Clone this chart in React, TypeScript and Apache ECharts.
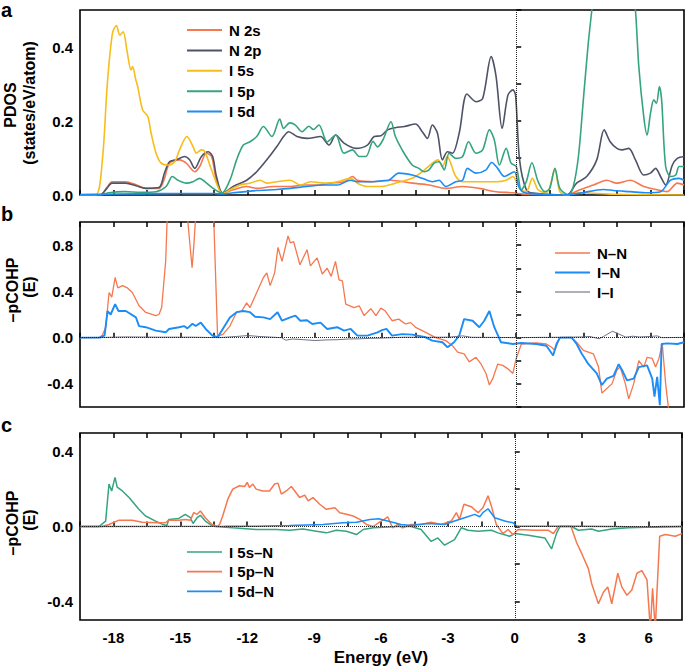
import React, { useEffect, useRef } from "react";
import * as echarts from "echarts";

const FONT = 'Arial, "Liberation Sans", Helvetica, sans-serif';

// ---------- Panel a: PDOS (states/eV/atom) vs energy (eV) ----------
const n2s: [number, number][] = [[-19.5,0],[-18.6,0],[-18.3,0.02],[-18.07,0.036],[-17.8,0.036],[-17.45,0.036],[-17.0,0.028],[-16.55,0.018],[-15.97,0.018],[-15.75,0.04],[-15.5,0.086],[-15.05,0.095],[-14.75,0.086],[-14.37,0.063],[-14.15,0.077],[-13.85,0.113],[-13.62,0.104],[-13.4,0.04],[-13.12,0.005],[-12.65,0.014],[-12.05,0.023],[-11.6,0.018],[-10.85,0.023],[-10.1,0.023],[-9.5,0.027],[-8.9,0.027],[-8.3,0.032],[-7.7,0.036],[-7.32,0.05],[-7.1,0.04],[-6.35,0.036],[-5.6,0.04],[-4.65,0.032],[-3.9,0.027],[-3.15,0.018],[-2.4,0.023],[-1.65,0.018],[-0.9,0.009],[-0.15,0.006],[0.45,0.002],[2.25,0],[2.85,0.014],[3.45,0.027],[4.05,0.04],[4.5,0.032],[5.1,0.04],[5.7,0.023],[6.3,0.014],[6.75,0.009],[7.2,0.032],[7.5,0.027]];
const n2p: [number, number][] = [[-19.5,0],[-18.6,0],[-18.3,0.018],[-18.07,0.032],[-17.45,0.032],[-17.0,0.025],[-16.55,0.018],[-15.97,0.02],[-15.72,0.06],[-15.5,0.09],[-15.2,0.095],[-14.82,0.104],[-14.6,0.095],[-14.37,0.072],[-14.07,0.104],[-13.77,0.117],[-13.57,0.104],[-13.4,0.05],[-13.12,0.005],[-12.65,0.023],[-12.05,0.04],[-11.6,0.063],[-11.15,0.095],[-10.7,0.131],[-10.4,0.158],[-10.17,0.171],[-9.8,0.158],[-9.35,0.153],[-8.75,0.158],[-8.37,0.135],[-8.07,0.162],[-7.7,0.14],[-7.17,0.126],[-6.65,0.135],[-6.35,0.158],[-6.05,0.16],[-5.75,0.176],[-5.4,0.182],[-5.0,0.185],[-4.5,0.192],[-4.2,0.171],[-3.97,0.153],[-3.75,0.189],[-3.52,0.167],[-3.3,0.095],[-3.07,0.117],[-2.85,0.113],[-2.55,0.167],[-2.2,0.273],[-1.8,0.252],[-1.5,0.261],[-1.12,0.374],[-0.9,0.32],[-0.63,0.18],[-0.37,0.27],[-0.15,0.284],[-0.03,0.27],[0.15,0.095],[0.45,0.014],[0.75,0.005],[2.25,0],[2.7,0.032],[3.15,0.05],[3.6,0.095],[3.93,0.176],[4.2,0.144],[4.5,0.126],[4.73,0.122],[5.03,0.126],[5.33,0.095],[5.7,0.054],[6.0,0.059],[6.23,0.072],[6.45,0.05],[6.68,0.027],[6.98,0.081],[7.2,0.099],[7.5,0.104]];
const i5s: [number, number][] = [[-19.5,0],[-18.8,0],[-18.5,0.095],[-18.28,0.3],[-18.05,0.437],[-17.87,0.458],[-17.72,0.432],[-17.57,0.441],[-17.4,0.39],[-17.22,0.338],[-17.15,0.347],[-17.0,0.31],[-16.92,0.293],[-16.7,0.23],[-16.47,0.212],[-16.32,0.167],[-16.1,0.113],[-15.87,0.086],[-15.57,0.081],[-15.27,0.09],[-15.05,0.122],[-14.72,0.158],[-14.45,0.131],[-14.3,0.113],[-14.07,0.122],[-13.92,0.117],[-13.62,0.068],[-13.24,0.009],[-13.1,0.005],[-12.8,0.014],[-12.35,0.027],[-11.9,0.032],[-11.45,0.04],[-11.15,0.032],[-10.7,0.036],[-10.1,0.04],[-9.65,0.027],[-9.2,0.036],[-8.6,0.032],[-8.0,0.036],[-7.4,0.045],[-7.1,0.032],[-6.65,0.023],[-6.05,0.023],[-5.4,0.032],[-4.65,0.045],[-4.2,0.063],[-3.75,0.086],[-3.5,0.095],[-3.3,0.077],[-3.08,0.104],[-2.93,0.086],[-2.7,0.05],[-2.4,0.036],[-1.65,0.036],[-0.9,0.036],[-0.45,0.04],[-0.15,0.05],[0.15,0.018],[0.45,0.009],[0.72,0.045],[0.98,0.014],[1.35,0.005],[1.73,0.068],[1.95,0.009],[2.25,0],[2.85,0.006],[4.35,0.002],[7.5,0]];
const i5p: [number, number][] = [[-19.5,0],[-18.6,0],[-18.2,0.006],[-17.5,0.009],[-16.8,0.007],[-16.1,0.009],[-15.65,0.023],[-15.37,0.05],[-15.12,0.04],[-14.75,0.032],[-14.45,0.036],[-14.15,0.045],[-13.92,0.036],[-13.55,0.018],[-13.17,0.005],[-12.8,0.04],[-12.5,0.095],[-12.2,0.135],[-11.9,0.144],[-11.6,0.158],[-11.3,0.185],[-10.92,0.158],[-10.57,0.205],[-10.4,0.18],[-10.12,0.195],[-9.87,0.189],[-9.57,0.171],[-9.27,0.186],[-9.07,0.177],[-8.82,0.189],[-8.45,0.144],[-8.07,0.162],[-7.7,0.113],[-7.32,0.122],[-7.02,0.104],[-6.72,0.104],[-6.4,0.145],[-6.2,0.13],[-5.95,0.15],[-5.6,0.198],[-5.4,0.158],[-5.1,0.122],[-4.65,0.081],[-4.35,0.072],[-4.12,0.063],[-3.9,0.068],[-3.67,0.086],[-3.45,0.09],[-3.22,0.068],[-3.0,0.113],[-2.7,0.099],[-2.4,0.104],[-2.13,0.144],[-1.8,0.113],[-1.5,0.122],[-1.2,0.176],[-0.98,0.149],[-0.75,0.081],[-0.45,0.126],[-0.23,0.086],[0,0.077],[0.23,0.014],[0.45,0.036],[0.7,0.087],[0.98,0.036],[1.28,0.009],[1.5,0.018],[1.73,0.072],[1.95,0.018],[2.33,0],[2.55,0.023],[2.78,0.104],[3.0,0.257],[3.22,0.41],[3.38,0.5],[3.6,0.62],[4.0,0.75],[4.5,0.8],[5.0,0.7],[5.33,0.5],[5.48,0.347],[5.7,0.212],[5.85,0.162],[6.0,0.22],[6.15,0.257],[6.27,0.248],[6.4,0.293],[6.5,0.257],[6.68,0.077],[6.9,0.05],[7.13,0.054],[7.28,0.077],[7.5,0.077]];
const i5d: [number, number][] = [[-19.5,0.001],[-18.5,0.002],[-17,0.003],[-15,0.004],[-13.5,0.004],[-13.1,0.003],[-12.65,0.006],[-11.6,0.012],[-10.7,0.015],[-10.1,0.018],[-9.35,0.023],[-8.6,0.027],[-8.0,0.027],[-7.4,0.04],[-7.1,0.036],[-6.5,0.036],[-5.9,0.039],[-5.7,0.04],[-5.25,0.059],[-4.65,0.054],[-4.2,0.045],[-3.75,0.036],[-3.45,0.04],[-3.15,0.023],[-2.7,0.036],[-2.4,0.04],[-2.18,0.072],[-1.8,0.059],[-1.35,0.068],[-1.1,0.088],[-0.83,0.072],[-0.53,0.05],[-0.23,0.059],[-0.08,0.063],[0.15,0.018],[0.45,0.005],[1.35,0.002],[2.1,0],[2.85,0.005],[3.9,0.015],[4.35,0.012],[5.1,0.009],[5.85,0.006],[6.45,0.009],[6.9,0.04],[7.28,0.045],[7.5,0.04]];

// ---------- Panel b: -pCOHP ----------
const nn: [number, number][] = [[-19.5,0],[-18.65,0],[-18.5,0.02],[-18.35,0.09],[-18.2,0.39],[-18.08,0.35],[-17.93,0.52],[-17.81,0.43],[-17.6,0.45],[-17.38,0.43],[-17.16,0.39],[-16.86,0.275],[-16.56,0.218],[-16.11,0.19],[-15.97,0.2],[-15.85,0.26],[-15.67,0.66],[-15.6,1.05],[-15.3,1.4],[-14.9,1.3],[-14.7,1.05],[-14.49,0.605],[-14.41,0.8],[-14.33,1.05],[-14.0,1.3],[-13.6,1.15],[-13.52,1.02],[-13.35,0.01],[-13.1,0.03],[-12.8,0.1],[-12.5,0.22],[-12.27,0.23],[-12.05,0.3],[-11.9,0.26],[-11.6,0.39],[-11.3,0.52],[-11.15,0.56],[-11.0,0.45],[-10.8,0.56],[-10.65,0.78],[-10.47,0.66],[-10.2,0.88],[-10.1,0.82],[-9.95,0.83],[-9.67,0.63],[-9.35,0.76],[-9.2,0.62],[-8.9,0.69],[-8.67,0.55],[-8.45,0.6],[-8.27,0.53],[-8.08,0.66],[-7.92,0.5],[-7.77,0.49],[-7.62,0.29],[-7.25,0.26],[-7.02,0.275],[-6.8,0.19],[-6.5,0.25],[-6.27,0.19],[-6.05,0.255],[-5.85,0.23],[-5.55,0.146],[-5.25,0.16],[-4.95,0.118],[-4.72,0.13],[-4.5,0.089],[-4.2,0.06],[-3.9,0.03],[-3.6,0.0],[-3.15,-0.026],[-2.85,-0.07],[-2.62,-0.126],[-2.33,-0.14],[-2.1,-0.21],[-1.8,-0.17],[-1.57,-0.23],[-1.35,-0.31],[-1.2,-0.41],[-1.05,-0.355],[-0.83,-0.23],[-0.6,-0.24],[-0.37,-0.27],[-0.15,-0.31],[0,-0.18],[0.23,-0.055],[0.9,-0.046],[1.35,-0.055],[1.58,-0.083],[1.73,-0.11],[1.95,0],[2.48,0],[2.7,-0.04],[3.0,-0.11],[3.45,-0.14],[3.68,-0.255],[3.83,-0.48],[4.05,-0.44],[4.28,-0.4],[4.5,-0.28],[4.65,-0.255],[4.88,-0.4],[5.03,-0.53],[5.25,-0.4],[5.48,-0.2],[5.7,-0.255],[5.85,-0.17],[6.08,-0.18],[6.23,-0.255],[6.38,-0.18],[6.53,-0.055],[6.68,-0.4],[6.83,-0.65],[7.0,-0.8],[7.5,-0.8]];
const in_: [number, number][] = [[-19.5,0],[-18.6,0],[-18.4,0.02],[-18.27,0.23],[-18.13,0.2],[-17.93,0.29],[-17.78,0.23],[-17.45,0.23],[-17.0,0.175],[-16.86,0.1],[-16.56,0.09],[-16.11,0.06],[-15.67,0.046],[-15.52,0.075],[-15.07,0.09],[-14.85,0.1],[-14.7,0.08],[-14.47,0.12],[-14.33,0.1],[-14.1,0.13],[-13.88,0.075],[-13.58,0.017],[-13.34,0.005],[-12.8,0.175],[-12.5,0.22],[-12.2,0.23],[-11.9,0.22],[-11.67,0.18],[-11.3,0.175],[-11.0,0.16],[-10.67,0.22],[-10.47,0.146],[-10.1,0.175],[-9.87,0.19],[-9.65,0.146],[-9.35,0.15],[-9.12,0.118],[-8.75,0.13],[-8.45,0.075],[-8.0,0.09],[-7.7,0.06],[-7.4,0.075],[-7.1,0.017],[-6.65,0.017],[-6.2,0.045],[-6.0,0.065],[-5.8,0.075],[-5.55,0.017],[-5.1,0.03],[-4.65,0.026],[-4.05,0.003],[-3.75,-0.026],[-3.3,-0.04],[-3.07,-0.083],[-2.78,-0.04],[-2.55,0.017],[-2.33,0.16],[-1.95,0.146],[-1.65,0.09],[-1.43,0.146],[-1.2,0.23],[-0.98,0.09],[-0.68,-0.04],[-0.15,-0.055],[0.23,-0.046],[0.9,-0.055],[1.35,-0.07],[1.65,-0.155],[1.8,-0.055],[1.95,0],[2.48,0],[2.7,-0.055],[2.93,-0.14],[3.23,-0.23],[3.6,-0.31],[3.83,-0.41],[4.05,-0.355],[4.35,-0.33],[4.58,-0.23],[4.73,-0.28],[4.95,-0.37],[5.25,-0.355],[5.48,-0.255],[5.85,-0.24],[6.08,-0.355],[6.18,-0.51],[6.3,-0.34],[6.42,-0.585],[6.5,-0.055],[6.75,-0.05],[7.2,-0.055],[7.5,-0.04]];
const ii: [number, number][] = [[-19.5,0],[-18.5,0.002],[-17.5,0.006],[-16,0.004],[-14.5,0.004],[-13.3,0.0],[-12.5,0.01],[-12.0,0.018],[-11.5,0.01],[-11.0,0.005],[-10.5,0.0],[-10.3,-0.022],[-10.0,-0.012],[-9.5,-0.018],[-9.0,-0.025],[-8.5,-0.02],[-8.0,-0.018],[-7.5,-0.012],[-7.0,-0.01],[-6.5,-0.006],[-6.0,-0.004],[-5.0,0.004],[-4.0,0.003],[-3.0,0.004],[-2.4,0.015],[-2.0,0.003],[-1.0,0.002],[0,0],[1.0,0.002],[2.0,0.003],[3.0,0.006],[3.3,0.01],[3.7,-0.01],[3.9,0.01],[4.3,0.055],[4.6,0.03],[4.9,0.004],[5.2,0.012],[5.5,0.006],[6.0,0.01],[6.3,0.015],[6.5,0.0],[7.5,0.002]];

// ---------- Panel c: -pCOHP by I orbital ----------
const i5sN: [number, number][] = [[-19.5,0],[-18.65,0],[-18.35,0.029],[-18.2,0.227],[-18.08,0.19],[-17.93,0.263],[-17.83,0.21],[-17.6,0.19],[-17.3,0.155],[-16.86,0.092],[-16.56,0.056],[-16.11,0.029],[-15.8,0.011],[-15.6,0.005],[-15.52,0.038],[-15.07,0.043],[-14.78,0.065],[-14.55,0.047],[-14.43,0.016],[-14.25,0.047],[-14.1,0.06],[-13.88,0.029],[-13.58,0.005],[-13.43,0],[-12.65,-0.007],[-11.6,-0.016],[-10.7,-0.016],[-10.1,-0.02],[-9.5,-0.013],[-8.9,-0.025],[-8.45,-0.034],[-8.0,-0.02],[-7.55,-0.025],[-7.1,-0.043],[-6.8,-0.016],[-6.35,-0.007],[-5.9,-0.004],[-5.25,0],[-4.65,0],[-4.2,-0.016],[-3.75,-0.08],[-3.45,-0.061],[-3.15,-0.1],[-2.7,-0.07],[-2.4,-0.007],[-2.1,-0.02],[-1.65,-0.025],[-1.05,-0.02],[-0.75,-0.034],[-0.23,-0.052],[0,-0.038],[0.6,-0.047],[1.35,-0.061],[1.65,-0.12],[1.88,-0.034],[2.03,0],[2.55,0],[2.85,-0.02],[3.45,-0.013],[3.75,-0.025],[4.35,-0.013],[5.1,-0.007],[5.85,-0.004],[6.6,0],[7.5,0]];
const i5pN: [number, number][] = [[-19.5,0],[-18.5,0],[-18.2,0.011],[-17.75,0.034],[-17.16,0.034],[-16.7,0.023],[-15.97,0.02],[-15.67,0.02],[-15.52,0.034],[-15.07,0.034],[-14.78,0.038],[-14.55,0.034],[-14.4,0.074],[-14.25,0.065],[-14.1,0.083],[-13.88,0.047],[-13.58,0.011],[-13.34,0],[-13.24,0.011],[-13.1,0.056],[-12.87,0.146],[-12.65,0.2],[-12.35,0.218],[-12.12,0.214],[-12.0,0.236],[-11.9,0.209],[-11.75,0.227],[-11.6,0.2],[-11.3,0.19],[-11.0,0.19],[-10.77,0.227],[-10.62,0.232],[-10.47,0.173],[-10.25,0.19],[-10.02,0.214],[-9.87,0.19],[-9.65,0.155],[-9.42,0.168],[-9.27,0.137],[-9.05,0.155],[-8.75,0.119],[-8.45,0.092],[-8.07,0.1],[-7.85,0.074],[-7.55,0.065],[-7.25,0.056],[-6.95,0.038],[-6.65,0.011],[-6.35,0],[-6.05,0.025],[-5.85,0.038],[-5.7,0.052],[-5.48,-0.007],[-5.25,0.011],[-5.03,-0.007],[-4.65,0.011],[-4.2,0.011],[-3.75,0.023],[-3.3,0.011],[-2.85,0.029],[-2.62,0.074],[-2.48,0.038],[-2.28,0.119],[-1.95,0.106],[-1.65,0.074],[-1.43,0.1],[-1.2,0.164],[-1.05,0.11],[-0.83,0.011],[-0.53,-0.038],[-0.3,-0.016],[-0.08,-0.043],[0.15,-0.016],[0.9,-0.02],[1.5,-0.02],[1.73,-0.038],[1.95,0],[2.52,0],[2.78,-0.088],[3.0,-0.144],[3.3,-0.225],[3.45,-0.306],[3.75,-0.413],[3.98,-0.35],[4.17,-0.323],[4.35,-0.413],[4.62,-0.25],[4.8,-0.323],[5.03,-0.368],[5.25,-0.34],[5.48,-0.25],[5.7,-0.236],[5.93,-0.286],[6.08,-0.55],[6.18,-0.33],[6.3,-0.55],[6.39,-0.32],[6.5,-0.052],[6.75,-0.043],[7.2,-0.052],[7.5,-0.038]];
const i5dN: [number, number][] = [[-19.5,0],[-13,0.001],[-11.6,0.002],[-10.1,0.005],[-8.6,0.011],[-7.7,0.02],[-7.1,0.023],[-6.5,0.038],[-6.1,0.041],[-5.7,0.029],[-5.1,0.011],[-4.65,0.005],[-3.9,0.016],[-3.15,0.011],[-2.7,0.029],[-2.25,0.047],[-1.8,0.065],[-1.57,0.052],[-1.43,0.074],[-1.2,0.095],[-0.9,0.047],[-0.45,0.029],[-0.08,0.02],[0.08,0.002],[1.35,0.002],[2.85,0.002],[4.35,0],[6.15,-0.004],[7.5,0]];

// ---------- labels ----------
const panelALegend = ["N 2s", "N 2p", "I 5s", "I 5p", "I 5d"];
const panelBLegend = ["N–N", "I–N", "I–I"];
const panelCLegend = ["I 5s–N", "I 5p–N", "I 5d–N"];
const panelLetters = ["a", "b", "c"];
const xTitle = "Energy (eV)";
const panelCYLabels = [-0.4, 0, 0.4];
const panelCYTicks = [-0.4, -0.2, 0, 0.2, 0.4];

const C = {
  orange: "#F5784F",
  dark: "#4E5368",
  yellow: "#F7BD1A",
  green: "#36A480",
  blue: "#1C8CF7",
  gray: "#5C6275",
};

export default function App() {
  const ref = useRef<HTMLDivElement>(null);
  useEffect(() => {
    document.body.style.margin = "0";
    if (!ref.current) return;
    const chart = echarts.init(ref.current, undefined, { renderer: "svg" });

    const LEFT = 80;
    const RIGHT = 1;
    const grids = [
      { top: 10, height: 185 },
      { top: 222, height: 185 },
      { top: 433, height: 187 },
    ];

    const tickStyle = { show: true, inside: true, length: 5, lineStyle: { color: "#000", width: 1.5 } };
    const xLabelFmt = (v: number) => {
      const r = Math.round(v);
      return Math.abs(r - v) < 1e-6 && r % 3 === 0 ? String(r) : "";
    };
    const labelStyle = { color: "#000", fontSize: 15, fontWeight: "bold", fontFamily: FONT };

    const xAxes: any[] = grids.map((_, i) => ({
      gridIndex: i,
      type: "value",
      min: -19.5,
      max: 7.5,
      interval: 1.5,
      axisLine: { show: false },
      axisTick: tickStyle,
      splitLine: { show: false },
      axisLabel: { show: i === 2, formatter: xLabelFmt, margin: 10, ...labelStyle },
      name: i === 2 ? xTitle : "",
      nameLocation: "middle",
      nameGap: 29,
      nameTextStyle: { color: "#000", fontSize: 17, fontWeight: "bold", fontFamily: FONT },
    }));
    // top ticks for panels b and c
    [1, 2].forEach((gi) => {
      xAxes.push({
        gridIndex: gi,
        type: "value",
        position: "top",
        min: -19.5,
        max: 7.5,
        interval: 1.5,
        axisLine: { show: false },
        axisTick: tickStyle,
        splitLine: { show: false },
        axisLabel: { show: false },
      });
    });

    const yAxes: any[] = [
      {
        gridIndex: 0, type: "value", min: 0, max: 0.5, interval: 0.1,
        axisLine: { show: false }, axisTick: tickStyle, splitLine: { show: false },
        axisLabel: {
          margin: 7, ...labelStyle,
          formatter: (v: number) => { const r = Math.round(v * 10); return r % 2 === 0 && r <= 4 ? v.toFixed(1) : ""; },
        },
      },
      {
        gridIndex: 1, type: "value", min: -0.6, max: 1.0, interval: 0.2,
        axisLine: { show: false }, axisTick: tickStyle, splitLine: { show: false },
        axisLabel: {
          margin: 7, ...labelStyle,
          formatter: (v: number) => { const r = Math.round(v * 10); return r % 4 === 0 ? (r === 0 ? "0.0" : (r / 10).toFixed(1)) : ""; },
        },
      },
      {
        gridIndex: 2, type: "value", min: -0.5, max: 0.5,
        axisLine: { show: false },
        axisTick: { ...tickStyle, customValues: panelCYTicks },
        splitLine: { show: false },
        axisLabel: {
          margin: 7, ...labelStyle, customValues: panelCYLabels,
          formatter: (v: number) => (Math.abs(v) < 1e-9 ? "0.0" : v.toFixed(1)),
        },
      },
    ];

    const dotted = (withZero: boolean) => ({
      silent: true,
      symbol: ["none", "none"],
      label: { show: false },
      lineStyle: { type: "dotted", color: "#222", width: 1 },
      data: withZero ? [{ xAxis: 0 }, { yAxis: 0 }] : [{ xAxis: 0 }],
    });

    const mk = (name: string, data: [number, number][], gi: number, color: string, width: number, smooth: number, extra: any = {}) => ({
      name,
      type: "line",
      xAxisIndex: gi,
      yAxisIndex: gi,
      data,
      showSymbol: false,
      symbol: "none",
      smooth,
      clip: true,
      lineStyle: { color, width },
      itemStyle: { color },
      ...extra,
    });

    const series: any[] = [
      mk(panelALegend[0], n2s, 0, C.orange, 1.6, 0.3, { markLine: dotted(false) }),
      mk(panelALegend[1], n2p, 0, C.dark, 1.6, 0.3),
      mk(panelALegend[2], i5s, 0, C.yellow, 1.6, 0.3),
      mk(panelALegend[3], i5p, 0, C.green, 1.6, 0.3),
      mk(panelALegend[4], i5d, 0, C.blue, 1.6, 0.3),
      mk(panelBLegend[0], nn, 1, C.orange, 1.3, 0, { markLine: dotted(true) }),
      mk(panelBLegend[1], in_, 1, C.blue, 1.9, 0),
      mk(panelBLegend[2], ii, 1, C.gray, 0.9, 0),
      mk(panelCLegend[0], i5sN, 2, C.green, 1.5, 0, { markLine: dotted(true) }),
      mk(panelCLegend[1], i5pN, 2, C.orange, 1.5, 0),
      mk(panelCLegend[2], i5dN, 2, C.blue, 1.5, 0),
    ];

    const legendItems = (names: string[], colors: string[], widths: number[], x0: number, y0: number, dy: number) =>
      names.flatMap((n, k) => [
        { type: "line", shape: { x1: x0, y1: y0 + k * dy, x2: x0 + 35, y2: y0 + k * dy }, style: { stroke: colors[k], lineWidth: widths[k] } },
        { type: "text", x: x0 + 42, y: y0 + k * dy, style: { text: n, fill: "#000", font: `bold 15px ${FONT}`, textVerticalAlign: "middle" } },
      ]);

    const vText = (text: string, x: number, y: number, size: number) => ({
      type: "text", x, y, rotation: Math.PI / 2,
      style: { text, fill: "#000", font: `bold ${size}px ${FONT}`, textAlign: "center", textVerticalAlign: "middle" },
    });

    const graphic: any[] = [
      ...panelLetters.map((t, k) => ({
        type: "text", x: 1, y: [0, 204, 415][k],
        style: { text: t, fill: "#000", font: `bold 20px ${FONT}`, textVerticalAlign: "top" },
      })),
      vText("PDOS", 10, 105, 16),
      vText("(states/eV/atom)", 29, 103, 16),
      vText("–pCOHP", 12, 290, 16),
      vText("(E)", 29, 287, 16),
      vText("–pCOHP", 12, 523, 16),
      vText("(E)", 29, 520, 16),
      ...legendItems(panelALegend, [C.orange, C.dark, C.yellow, C.green, C.blue], [2, 2, 2, 2, 2], 187, 30, 20.4),
      ...legendItems(panelBLegend, [C.orange, C.blue, C.gray], [1.5, 2.2, 1.1], 555, 253, 19.5),
      ...legendItems(panelCLegend, [C.green, C.orange, C.blue], [1.7, 1.7, 1.7], 187, 552, 19.7),
    ];

    chart.setOption({
      animation: false,
      backgroundColor: "#fff",
      textStyle: { fontFamily: FONT },
      grid: grids.map((g) => ({
        left: LEFT, right: RIGHT, top: g.top, height: g.height,
        show: true, borderColor: "#000", borderWidth: 1.6, backgroundColor: "transparent",
      })),
      xAxis: xAxes,
      yAxis: yAxes,
      series,
      graphic,
    });

    return () => chart.dispose();
  }, []);

  return <div ref={ref} style={{ width: 685, height: 669 }} />;
}
